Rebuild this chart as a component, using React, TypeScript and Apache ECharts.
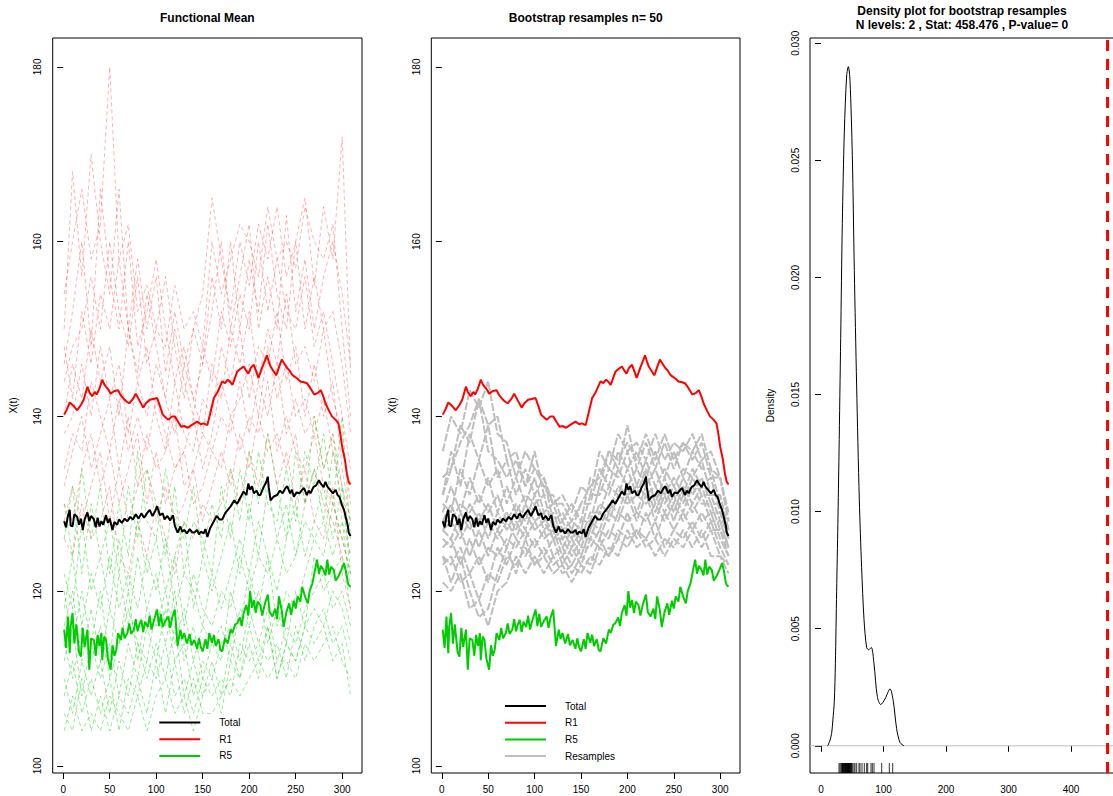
import React, { useEffect, useRef } from "react";
import * as echarts from "echarts";

const FONT = '"Liberation Sans", Arial, Helvetica, sans-serif';

// ---------------- tick labels ----------------
const TIME_TICKS = [0, 50, 100, 150, 200, 250, 300];
const XT_TICKS = [100, 120, 140, 160, 180];
const DENS_X_TICKS = [0, 100, 200, 300, 400];
const DENS_Y_TICKS = [0, 0.005, 0.01, 0.015, 0.02, 0.025, 0.03];

// data ranges (R extends each by 4% on both sides)
const TIME_LIM = [1, 309];
const XT_LIM = [102.3, 180.19];
const DENS_XLIM = [0.71, 458.476];
const DENS_YLIM = [0, 0.02906];

// ---------------- titles / legend ----------------
const TITLE_1 = "Functional Mean";
const TITLE_2 = "Bootstrap resamples n= 50";
const TITLE_3 = "Density plot for bootstrap resamples\nN levels: 2 , Stat: 458.476 , P-value= 0";
const LEGEND_1 = ["Total", "R1", "R5"];
const LEGEND_2 = ["Total", "R1", "R5", "Resamples"];

// ---------------- functional means ----------------
const R1_X = [1,4,7,10,12,15,19,22,26,28,31,34,36,39,42,44,46,49,51,55,59,62,66,68,71,75,78,82,86,89,93,97,101,104,107,110,113,117,120,124,127,130,134,138,141,144,148,151,155,158,162,166,171,174,177,180,182,185,187,190,194,197,199,202,205,208,210,214,217,219,221,223,226,229,232,235,238,241,243,246,248,252,255,259,262,266,270,274,277,280,282,286,289,293,296,298,300,303,305,307,309];
const R1_Y = [140.2,140.8,141.6,141.3,141.1,140.7,141.3,141.9,143.4,142.8,142.3,142.8,142.5,143.2,144.2,143.7,143.4,143.0,142.6,142.9,143.0,142.4,141.9,141.7,141.5,142.0,142.6,141.8,141.0,141.5,141.9,142.0,142.1,141.2,140.2,139.9,139.6,140.0,140.0,139.3,138.8,138.9,138.7,139.0,139.2,139.4,139.1,139.2,139.0,140.3,142.1,142.8,144.0,143.8,144.2,143.9,143.6,144.5,145.1,145.4,145.7,145.2,144.9,145.6,145.9,145.0,144.4,145.6,146.4,147.0,146.3,145.7,145.2,144.7,145.6,146.5,146.0,145.5,145.3,144.8,144.6,144.3,144.0,143.9,143.8,143.2,142.5,142.7,143.0,142.2,141.5,140.6,140.0,139.6,139.2,138.0,136.5,135.0,133.5,132.5,132.2];

const TOTAL_X = [1,3,5,7,8,10,12,15,17,19,21,23,26,28,30,33,35,37,39,41,43,46,48,50,53,55,58,60,63,66,69,72,75,78,81,84,87,90,93,96,99,101,104,107,109,112,115,118,120,123,126,128,130,133,136,139,141,144,146,148,151,153,155,158,160,162,165,168,171,174,177,180,184,187,191,194,197,199,201,203,205,208,210,212,215,218,220,221,223,226,230,233,236,239,241,244,246,248,251,254,257,259,262,264,266,269,272,275,277,280,282,284,287,290,293,295,297,300,302,304,306,307,309];
const TOTAL_Y = [128.0,127.3,128.6,129.3,127.5,127.4,128.8,128.5,127.6,128.3,127.0,128.2,129.0,128.0,128.6,128.2,127.3,128.4,127.4,128.0,127.6,128.7,127.8,128.3,127.0,127.9,127.6,128.2,127.8,128.3,128.0,128.5,128.2,128.8,128.3,128.9,128.4,128.9,129.3,128.6,129.2,129.7,128.7,128.9,128.2,128.6,128.1,128.7,127.5,126.7,127.4,126.8,127.0,126.6,127.1,126.7,126.7,127.0,126.5,126.8,126.6,127.1,126.2,127.2,127.6,128.0,128.6,128.2,128.2,128.9,129.3,129.7,130.4,130.0,130.8,131.4,131.0,132.3,131.6,132.0,131.2,131.5,131.0,131.0,131.8,132.4,133.1,131.9,130.4,130.8,131.0,131.5,131.2,131.8,132.0,131.2,131.6,130.8,131.3,131.2,131.6,131.8,131.0,131.5,131.2,131.9,132.1,132.7,132.3,131.9,132.5,132.0,131.6,131.2,131.6,131.0,130.8,129.8,129.3,128.4,127.5,126.7,126.3];

const R5_X = [1,3,5,7,8,10,12,14,15,17,19,21,23,26,28,30,33,35,37,39,41,42,44,46,48,51,53,55,57,59,62,64,66,69,71,73,76,78,80,82,84,86,88,91,93,95,98,101,103,105,107,110,113,115,117,120,122,123,126,128,130,133,136,138,141,144,146,148,150,153,155,157,160,162,164,167,169,171,174,177,180,182,185,187,190,192,194,197,199,201,203,205,207,209,212,214,217,220,222,225,228,230,232,235,237,240,243,245,248,250,252,255,257,260,263,265,268,270,273,275,277,280,282,284,286,288,291,293,296,299,302,304,306,307,309];
const R5_Y = [115.6,113.5,117.1,112.9,116.0,117.5,114.0,116.2,115.2,113.0,112.5,115.8,113.6,115.6,111.0,114.6,114.4,112.6,115.0,113.7,115.2,112.1,114.8,114.4,112.3,111.0,113.8,112.6,113.3,115.2,114.4,115.8,114.6,115.2,116.3,115.1,115.6,116.8,115.4,116.2,116.7,115.3,116.5,115.9,117.2,115.6,116.8,117.9,116.0,117.4,115.9,116.6,117.1,115.8,116.9,117.9,115.2,113.7,115.6,114.5,115.2,114.0,115.1,113.8,114.4,113.4,114.6,113.6,113.1,114.5,113.4,115.2,114.1,115.0,113.7,114.5,113.3,113.1,114.6,114.0,115.6,115.2,116.2,116.3,117.0,116.0,117.5,118.4,117.2,120.0,118.1,119.0,117.5,118.8,118.4,117.2,118.6,119.6,117.6,117.1,118.0,116.8,119.4,117.8,115.9,117.6,118.6,117.3,118.9,118.0,119.4,118.8,120.5,119.4,118.6,120.0,120.9,122.0,123.6,122.0,122.9,122.4,121.8,123.6,121.9,122.8,122.4,121.2,121.7,122.4,123.2,122.3,121.0,120.7,120.5];

// ---------------- individual curves (estimated, sampled every 10) ----------------
const CURVE_X = [1,10,20,30,40,50,60,70,80,90,100,110,120,130,140,150,160,170,180,190,200,210,220,230,240,250,260,270,280,290,300,309];

const R1_CURVE_A = [154,160,166,158,162,180,158,162,152,155,150,148,155,150,152,148,160,154,158,162,160,156,164,158,160,157,164,160,158,162,150,140];
const R1_CURVE_B = [150,168,156,170,160,154,166,150,158,150,156,145,152,146,150,154,165,158,152,160,155,162,158,164,156,160,165,155,164,158,172,145];
const R1_CURVE_C = [146,152,160,148,166,156,150,160,148,152,158,150,144,148,142,146,152,160,150,156,162,150,156,150,163,152,158,150,156,160,154,146];
const R1_CURVE_D = [144,148,150,156,150,160,152,148,156,146,150,156,148,142,150,146,156,150,160,150,158,152,162,154,150,160,150,156,150,152,146,138];
const R1_CURVE_E = [148,142,152,146,154,150,158,150,145,154,148,142,150,144,140,148,144,152,148,154,150,160,152,158,152,150,156,148,152,146,140,134];
const R1_CURVE_F = [140,146,142,150,144,148,140,150,144,140,146,142,138,146,142,138,146,142,150,146,152,144,150,146,154,146,148,144,150,142,138,130];
const R1_CURVE_G = [138,140,146,140,148,142,146,138,144,148,140,136,144,138,136,142,140,148,144,150,142,148,146,152,144,148,140,146,140,144,134,128];
const R1_CURVE_H = [134,138,136,144,140,136,142,136,140,136,142,138,134,136,140,134,138,144,140,142,146,140,148,142,146,140,142,138,142,136,132,126];
const R1_CURVE_I = [132,136,140,134,138,142,134,140,132,138,134,136,140,132,134,138,136,140,138,144,138,144,140,146,138,142,138,140,134,138,128,124];
const R1_CURVE_J = [130,128,134,138,132,136,130,134,138,130,136,130,134,136,130,132,136,134,140,136,140,138,144,136,140,136,134,138,132,130,126,122];
const R1_CURVE_K = [128,132,128,132,136,128,134,128,132,134,128,132,128,130,134,128,132,136,132,138,134,140,136,138,134,138,130,134,130,128,124,120];
const R1_CURVE_L = [126,124,130,126,128,132,124,122,128,124,130,126,122,128,126,130,128,130,134,130,136,132,138,132,136,130,134,128,126,132,122,118];
const R1_CURVES = [R1_CURVE_A, R1_CURVE_B, R1_CURVE_C, R1_CURVE_D, R1_CURVE_E, R1_CURVE_F, R1_CURVE_G, R1_CURVE_H, R1_CURVE_I, R1_CURVE_J, R1_CURVE_K, R1_CURVE_L];

const R5_CURVE_A = [130,124,134,126,132,122,130,124,136,128,126,134,128,126,132,124,130,126,134,128,136,130,138,132,126,136,130,140,134,138,132,128];
const R5_CURVE_B = [126,132,122,130,124,128,122,132,126,134,130,124,132,122,128,126,122,132,126,134,128,136,130,128,134,128,136,132,138,130,140,126];
const R5_CURVE_C = [122,118,128,120,124,118,126,120,128,122,126,120,124,128,118,124,120,124,128,122,130,124,132,126,130,124,130,134,128,136,130,124];
const R5_CURVE_D = [118,124,116,122,118,124,118,122,118,124,120,126,118,122,120,116,122,118,122,126,122,128,124,120,126,130,124,128,132,126,132,122];
const R5_CURVE_E = [120,114,120,114,120,112,122,116,124,118,122,116,124,116,122,118,116,120,118,124,120,124,122,126,122,124,128,126,124,130,126,122];
const R5_CURVE_F = [116,120,112,118,112,118,114,120,112,118,116,120,114,118,112,116,114,112,120,116,122,118,124,116,120,118,122,126,128,124,128,120];
const R5_CURVE_G = [114,110,116,112,116,110,114,118,114,112,118,114,120,112,116,110,114,116,112,118,116,120,114,118,114,120,116,124,120,122,124,118];
const R5_CURVE_H = [112,116,108,114,110,114,108,114,110,116,112,118,112,114,108,112,110,114,116,112,118,114,118,112,116,114,118,120,122,118,120,116];
const R5_CURVE_I = [110,106,112,108,112,106,112,108,114,110,114,110,116,108,112,108,112,108,114,110,116,112,116,110,114,112,116,118,116,120,118,114];
const R5_CURVE_J = [108,112,106,110,106,110,104,110,108,112,110,114,108,110,106,110,108,110,108,114,112,114,112,114,110,116,112,116,118,114,116,112];
const R5_CURVE_K = [106,104,110,104,108,104,108,106,110,106,112,106,112,106,110,106,106,108,110,108,110,112,110,112,112,110,114,112,114,116,112,110];
const R5_CURVE_L = [104,108,104,106,104,108,106,104,108,104,108,110,106,108,104,108,110,106,112,110,114,110,116,110,114,112,116,114,116,112,114,108];
const R5_CURVES = [R5_CURVE_A, R5_CURVE_B, R5_CURVE_C, R5_CURVE_D, R5_CURVE_E, R5_CURVE_F, R5_CURVE_G, R5_CURVE_H, R5_CURVE_I, R5_CURVE_J, R5_CURVE_K, R5_CURVE_L];

// ---------------- bootstrap resamples (estimated, sampled every 10) ----------------
const BOOT_01 = [136,140,138,143,141,144,138,137,133,136,134,133,130,131,129,132,131,136,134,138,136,137,135,138,135,137,136,138,135,136,133,129];
const BOOT_02 = [133,134,139,137,142,139,140,135,136,132,136,131,131,128,130,128,133,132,136,134,139,134,137,134,137,134,137,135,137,133,133,128];
const BOOT_03 = [131,136,132,138,135,139,133,135,131,134,131,133,128,129,127,130,130,134,132,136,134,136,133,136,133,136,133,136,134,134,130,127];
const BOOT_04 = [130,129,134,131,135,132,134,130,133,130,133,129,130,127,128,127,131,131,134,133,136,132,135,132,134,132,134,133,135,131,131,127];
const BOOT_05 = [129,132,129,133,130,133,129,132,129,131,130,131,127,128,126,128,128,132,131,134,132,134,132,134,131,133,131,134,132,133,129,126];
const BOOT_06 = [128,128,130,129,131,129,131,128,130,128,131,128,129,126,127,126,129,129,132,131,134,131,134,130,133,130,133,131,133,130,130,126];
const BOOT_07 = [128,130,127,130,128,130,127,129,127,130,128,129,126,127,125,127,127,130,129,132,131,132,131,132,130,132,130,133,131,131,128,125];
const BOOT_08 = [127,126,129,127,129,126,129,127,129,127,130,127,128,125,127,125,128,127,130,129,132,129,132,129,132,129,132,130,132,129,129,126];
const BOOT_09 = [127,128,126,128,125,128,126,128,126,129,127,128,126,126,124,126,126,129,128,131,130,131,130,131,129,131,129,132,130,130,127,125];
const BOOT_10 = [126,125,127,124,127,124,127,125,128,126,128,126,127,124,126,124,127,126,129,128,131,128,131,128,131,128,131,129,131,128,128,125];
const BOOT_11 = [125,126,123,126,123,125,124,126,125,127,125,127,124,125,123,125,125,127,126,129,128,129,128,130,128,130,128,130,128,129,126,124];
const BOOT_12 = [124,123,125,122,124,121,125,123,126,124,126,124,126,123,125,123,126,125,127,126,129,126,129,126,129,127,129,127,129,127,127,124];
const BOOT_13 = [123,124,121,122,119,122,121,124,123,125,123,125,123,124,122,124,123,126,124,127,126,127,126,128,125,127,126,128,126,128,125,123];
const BOOT_14 = [121,120,122,118,119,116,120,121,124,122,124,122,124,122,123,122,124,123,125,124,127,125,126,124,126,125,127,125,127,124,124,122];
const BOOT_15 = [124,121,124,120,117,118,122,125,122,126,123,124,122,123,121,123,122,125,124,126,125,127,125,126,124,126,125,127,125,127,124,123];
const BOOT_16 = [131,134,137,139,142,136,135,133,135,132,134,132,130,130,128,130,132,133,136,135,137,135,138,135,138,135,137,136,138,134,133,128];
const BOOT_CURVES = [BOOT_01, BOOT_02, BOOT_03, BOOT_04, BOOT_05, BOOT_06, BOOT_07, BOOT_08, BOOT_09, BOOT_10, BOOT_11, BOOT_12, BOOT_13, BOOT_14, BOOT_15, BOOT_16];

// ---------------- density of bootstrap statistics ----------------
const DENS_X = [10.7,14,17,19,21.3,23,25,27,28.8,31.5,34.1,37.3,41,43.7,46.4,50.1,53.3,57,61.3,65,68.8,73,76.3,80.5,84.8,90.1,95.5,102.4,110.4,115.7,121,126.4,132.8];
const DENS_Y = [0,0.0002,0.00053,0.0011,0.0019,0.0035,0.0066,0.0095,0.0125,0.0174,0.0223,0.0262,0.0286,0.029,0.0284,0.0252,0.0203,0.0154,0.0105,0.0076,0.0054,0.0042,0.0041,0.0042,0.0035,0.0021,0.00176,0.002,0.00243,0.0019,0.00073,0.00014,0];
const BOOT_STATS = [28.8,30.4,32.0,33.1,34.2,34.6,35.0,35.7,36.5,37.2,38.0,38.4,39.1,39.4,39.8,40.5,41.1,41.8,42.4,43.0,43.7,44.0,44.3,45.0,45.6,46.4,47.0,47.7,48.4,49.1,50.7,52.8,54.4,57.1,60.8,62.4,65.6,69.3,73.1,74.7,80.0,82.1,84.8,97.1,109.3,114.7];
const OBSERVED_STAT = 458.476;

// ---------------- helpers ----------------
const zip = (xs: number[], ys: number[]) => xs.map((x, i) => [x, ys[i]]);
const extend = (lim: number[]) => {
  const d = (lim[1] - lim[0]) * 0.04;
  return [lim[0] - d, lim[1] + d];
};

function line(name: string, idx: number, data: number[][], color: string, width: number, dash?: number[], extra: any = {}) {
  return {
    type: "line",
    name,
    xAxisIndex: idx,
    yAxisIndex: idx,
    data,
    symbol: "none",
    showSymbol: false,
    clip: true,
    silent: true,
    lineStyle: { color, width, type: dash ? dash : "solid" },
    itemStyle: { color },
    emphasis: { disabled: true },
    ...extra,
  };
}

function axisX(idx: number, lim: number[], ticks: number[]) {
  const e = extend(lim);
  return {
    type: "value",
    gridIndex: idx,
    min: e[0],
    max: e[1],
    axisLine: { show: false },
    axisTick: { show: true, length: 6, customValues: ticks, lineStyle: { color: "#000", width: 1 } },
    axisLabel: { fontSize: 10, color: "#000", fontFamily: FONT, margin: 11, customValues: ticks },
    splitLine: { show: false },
  };
}

function axisY(idx: number, lim: number[], ticks: number[], digits: number) {
  const e = extend(lim);
  return {
    type: "value",
    gridIndex: idx,
    min: e[0],
    max: e[1],
    axisLine: { show: false },
    axisTick: { show: true, length: 6, customValues: ticks, lineStyle: { color: "#000", width: 1 } },
    axisLabel: {
      fontSize: 10,
      color: "#000",
      fontFamily: FONT,
      rotate: 90,
      margin: 10,
      customValues: ticks,
      formatter: (v: number) => v.toFixed(digits),
    },
    splitLine: { show: false },
  };
}

function legendCfg(names: string[], left: number, top: number) {
  return {
    data: names.map((n) => ({
      name: n,
      lineStyle: { type: "solid", width: 2 },
      itemStyle: { color: "rgba(0,0,0,0)", borderWidth: 0, opacity: 0 },
    })),
    orient: "vertical",
    left,
    top,
    itemWidth: 41,
    itemHeight: 12,
    itemGap: 6.7,
    padding: 0,
    selectedMode: false,
    textStyle: { fontSize: 10, color: "#000", fontFamily: FONT, padding: [0, 0, 0, 14] },
  };
}

const gridBox = (left: number, width: number) => ({
  left,
  top: 38,
  width,
  height: 735,
  show: true,
  borderColor: "#000",
  borderWidth: 1,
  backgroundColor: "transparent",
  containLabel: false,
  outerBoundsMode: "none",
});

export default function App() {
  const ref = useRef<HTMLDivElement>(null);

  useEffect(() => {
    if (!ref.current) return;
    const chart = echarts.init(ref.current, undefined, { renderer: "svg" });

    const dx = extend(DENS_XLIM);
    const dy = extend(DENS_YLIM);
    const rugY = dy[0] + 0.000214;

    const series: any[] = [];
    // Panel 1: individual curves then means
    R1_CURVES.forEach((c, i) => series.push(line(`R1 curve ${i + 1}`, 0, zip(CURVE_X, c), "rgba(255,0,0,0.3)", 1, [4, 3])));
    R5_CURVES.forEach((c, i) => series.push(line(`R5 curve ${i + 1}`, 0, zip(CURVE_X, c), "rgba(0,205,0,0.42)", 1, [4, 3])));
    series.push(line("Total", 0, zip(TOTAL_X, TOTAL_Y), "#000000", 2));
    series.push(line("R1", 0, zip(R1_X, R1_Y), "#FF0000", 2));
    series.push(line("R5", 0, zip(R5_X, R5_Y), "#00CD00", 2));
    // Panel 2: bootstrap resamples then means
    BOOT_CURVES.forEach((c) => series.push(line("Resamples", 1, zip(CURVE_X, c), "#BEBEBE", 2, [8, 2])));
    series.push(line("Total", 1, zip(TOTAL_X, TOTAL_Y), "#000000", 2));
    series.push(line("R1", 1, zip(R1_X, R1_Y), "#FF0000", 2));
    series.push(line("R5", 1, zip(R5_X, R5_Y), "#00CD00", 2));
    // Panel 3: density
    series.push(line("zero", 2, [[dx[0], 0], [dx[1], 0]], "#BEBEBE", 1));
    series.push(line("density", 2, zip(DENS_X, DENS_Y), "#000000", 1, undefined, { smooth: 0.3 }));
    series.push(line("stat", 2, [[OBSERVED_STAT, dy[0]], [OBSERVED_STAT, dy[1]]], "#FF0000", 3, [11, 8], { clip: false }));
    series.push({
      type: "scatter",
      name: "rug",
      xAxisIndex: 2,
      yAxisIndex: 2,
      data: BOOT_STATS.map((v) => [v, rugY]),
      symbol: "rect",
      symbolSize: [1, 10],
      itemStyle: { color: "#000" },
      clip: false,
      silent: true,
    });

    const titleStyle = { fontSize: 12, fontWeight: "bold", color: "#000", fontFamily: FONT, lineHeight: 14.3 };
    const yName = (x: number, text: string) => ({
      type: "text",
      x,
      y: 405.5,
      rotation: Math.PI / 2,
      style: { text, font: `10px ${FONT}`, fill: "#000", textAlign: "center", textVerticalAlign: "middle" },
      silent: true,
    });

    const option: any = {
      animation: false,
      backgroundColor: "#ffffff",
      title: [
        { text: TITLE_1, left: 207.3, top: 10.5, textAlign: "center", padding: 0, textStyle: titleStyle },
        { text: TITLE_2, left: 585.7, top: 10.5, textAlign: "center", padding: 0, textStyle: titleStyle },
        { text: TITLE_3, left: 962, top: 3.5, textAlign: "center", padding: 0, textStyle: titleStyle },
      ],
      legend: [legendCfg(LEGEND_1, 158.3, 717.5), legendCfg(LEGEND_2, 504, 701)],
      grid: [gridBox(52.7, 309.3), gridBox(431.3, 308.7), gridBox(810, 309)],
      xAxis: [axisX(0, TIME_LIM, TIME_TICKS), axisX(1, TIME_LIM, TIME_TICKS), axisX(2, DENS_XLIM, DENS_X_TICKS)],
      yAxis: [axisY(0, XT_LIM, XT_TICKS, 0), axisY(1, XT_LIM, XT_TICKS, 0), axisY(2, DENS_YLIM, DENS_Y_TICKS, 3)],
      graphic: [yName(13, "X(t)"), yName(392, "X(t)"), yName(770.5, "Density")],
      series,
    };

    chart.setOption(option);
    return () => chart.dispose();
  }, []);

  return (
    <div
      ref={ref}
      style={{ position: "absolute", left: 0, top: 0, width: 1113, height: 796, background: "#fff" }}
    />
  );
}
